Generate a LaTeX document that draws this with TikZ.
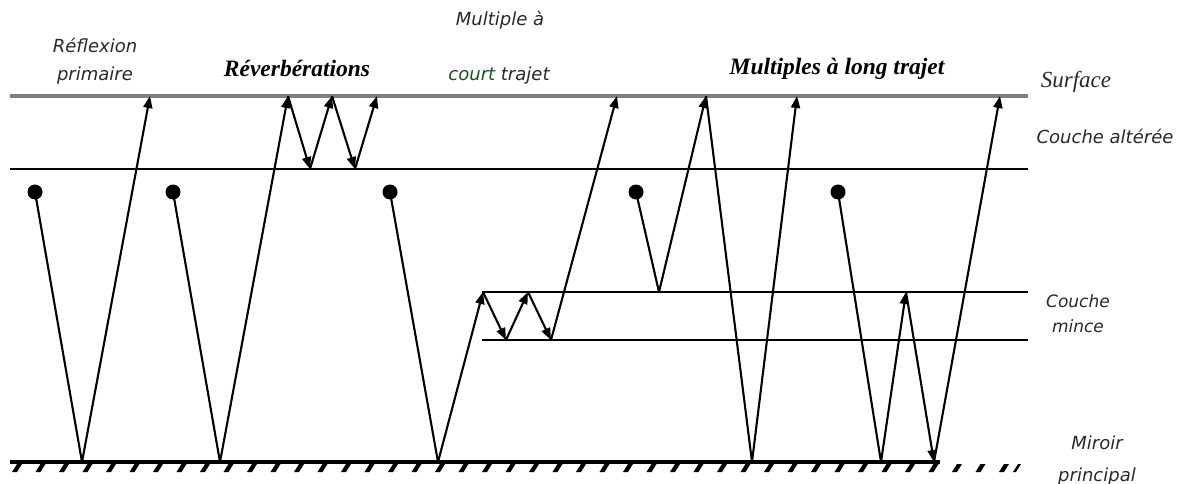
\documentclass[tikz,border=0pt]{standalone}
\usepackage{fontspec}
\setmainfont{Liberation Serif}
\newfontfamily\sanslab{DejaVu Sans}
\usetikzlibrary{arrows.meta}
\definecolor{surfgray}{RGB}{128,128,128}
\definecolor{labgray}{RGB}{40,40,40}
\definecolor{wordgreen}{RGB}{30,80,30}
\begin{document}
\begin{tikzpicture}[x=1pt,y=-1pt,
  ray/.style={line width=2.1pt,black},
  rayarrow/.style={ray,-{Triangle[length=12pt,width=9pt]}},
  src/.style={circle,fill=black,inner sep=0pt,minimum size=15pt},
  layer/.style={line width=2.2pt,black},
  hatch/.style={fill=black},
  sanstext/.style={font=\sanslab\itshape\fontsize{18}{28}\selectfont,text=labgray,inner sep=0pt,align=center},
  boldlab/.style={font=\bfseries\itshape\fontsize{23.5}{28}\selectfont,inner sep=0pt},
  seriflab/.style={font=\itshape\fontsize{23}{28}\selectfont,text=labgray,inner sep=0pt}
]
\useasboundingbox (0,0) rectangle (1184,484);

% layers
\draw[line width=4.5pt,surfgray] (10,96) -- (1028,96);
\draw[layer] (10,169) -- (1028,169);
\draw[layer] (482,292) -- (1028,292);
\draw[layer] (482,340) -- (1028,340);
% mirror
\draw[line width=4pt] (10,462) -- (940,462);
\foreach \x in {12,35.5,...,1000}{
  \fill[hatch] (\x,472) -- (\x+5,472) -- (\x+10,464) -- (\x+5,464) -- cycle;
}
\fill[hatch] (1013,472) -- (1016,472) -- (1021,464) -- (1018,464) -- cycle;

% sources
\node[src] (d1) at (35,192) {};
\node[src] (d2) at (173,192) {};
\node[src] (d3) at (390,192) {};
\node[src] (d4) at (636,192) {};
\node[src] (d5) at (838,192) {};

% reflection points
\coordinate (m1) at (82,462);
\coordinate (s1) at (150,96);

\coordinate (m2) at (220,462);
\coordinate (s2a) at (288,96);
\coordinate (a2a) at (310,169);
\coordinate (s2b) at (332,96);
\coordinate (a2b) at (355,169);
\coordinate (s2c) at (377,96);

\coordinate (m3) at (438,462);
\coordinate (t3a) at (483,292);
\coordinate (b3a) at (506,340);
\coordinate (t3b) at (528,292);
\coordinate (b3b) at (551,340);
\coordinate (s3) at (617,96);

\coordinate (t4) at (659,292);
\coordinate (s4a) at (706,96);
\coordinate (m4) at (752,462);
\coordinate (s4b) at (797,96);

\coordinate (m5) at (881,462);
\coordinate (t5) at (906,292);
\coordinate (m5b) at (934,462);
\coordinate (s5) at (1000,96);

% ray 1
\draw[ray] (d1.center) -- (m1);
\draw[rayarrow] (m1) -- (s1);
% ray 2
\draw[ray] (d2.center) -- (m2);
\draw[rayarrow] (m2) -- (s2a);
\draw[rayarrow] (s2a) -- (a2a);
\draw[rayarrow] (a2a) -- (s2b);
\draw[rayarrow] (s2b) -- (a2b);
\draw[rayarrow] (a2b) -- (s2c);
% ray 3
\draw[ray] (d3.center) -- (m3);
\draw[rayarrow] (m3) -- (t3a);
\draw[rayarrow] (t3a) -- (b3a);
\draw[rayarrow] (b3a) -- (t3b);
\draw[rayarrow] (t3b) -- (b3b);
\draw[rayarrow] (b3b) -- (s3);
% ray 4
\draw[ray] (d4.center) -- (t4);
\draw[rayarrow] (t4) -- (s4a);
\draw[ray] (s4a) -- (m4);
\draw[rayarrow] (m4) -- (s4b);
% ray 5
\draw[ray] (d5.center) -- (m5);
\draw[rayarrow] (m5) -- (t5);
\draw[rayarrow] (t5) -- (m5b);
\draw[rayarrow] (m5b) -- (s5);

% labels
\node[sanstext] (lrefl) at (95,61) {Réflexion\\primaire};
\node[boldlab] (lrev) at (297,68) {Réverbérations};
\node[sanstext] (lmult) at (500,20) {Multiple à};
\node[sanstext] (lcourt) at (499,76) {\textcolor{wordgreen}{court} trajet};
\node[boldlab] (llong) at (837,69) {Multiples à long trajet};
\node[seriflab] (lsurf) at (1076,82) {Surface};
\node[sanstext] (lalt) at (1105,136) {Couche altérée};
\node[sanstext,font=\sanslab\itshape\fontsize{17}{25}\selectfont] (lmince) at (1078,314) {Couche\\mince};
\node[sanstext,font=\sanslab\itshape\fontsize{18}{32}\selectfont] (lmiroir) at (1097,461) {Miroir\\principal};
\end{tikzpicture}
\end{document}
